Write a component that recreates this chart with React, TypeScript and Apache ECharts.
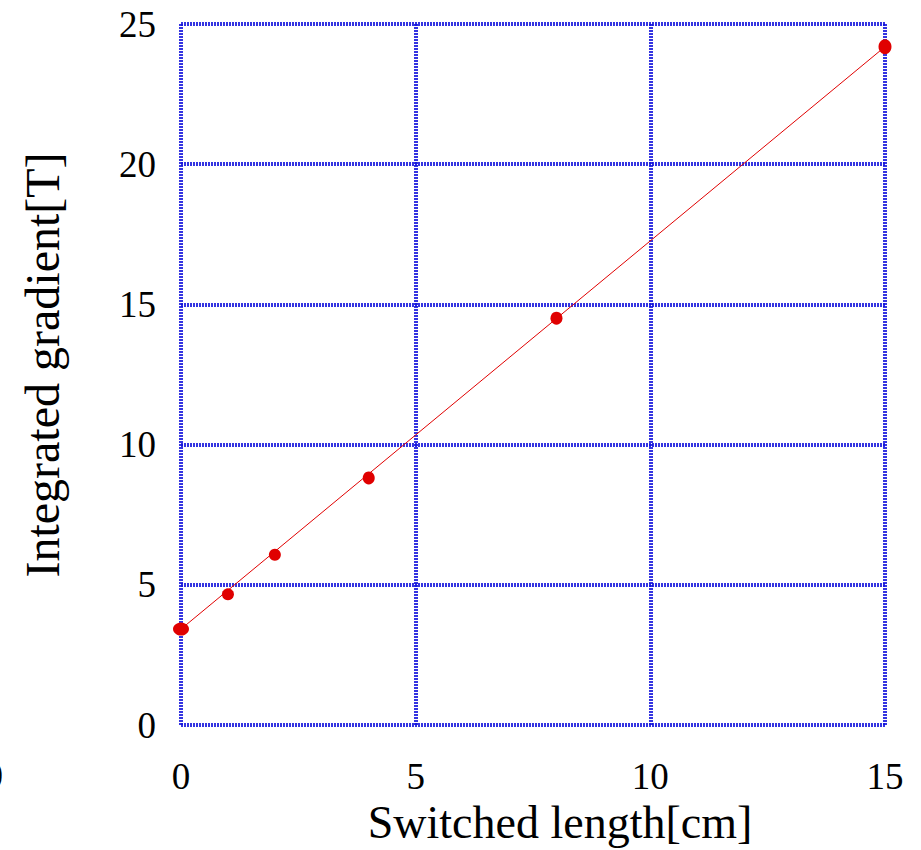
import React, { useEffect, useRef } from "react";
import * as echarts from "echarts";

const lengthsCm = [0, 1, 2, 4, 8, 15];
const gradientT = [3.42, 4.66, 6.07, 8.81, 14.51, 24.19];
const markerSizes = [[16, 13], [12, 12], [12, 12], [12, 13], [12, 13], [13, 15]];
const fitX = [0, 15];
const fitY = [3.42, 24.19];
const xTicks = [0, 5, 10, 15];
const yTicks = [0, 5, 10, 15, 20, 25];
const xTitle = "Switched length[cm]";
const yTitle = "Integrated gradient[T]";

const FONT = "'Liberation Serif', 'DejaVu Serif', serif";
const GRID_COLOR = "#1010dc";

export default function App() {
  const ref = useRef<HTMLDivElement>(null);
  useEffect(() => {
    if (!ref.current) return;
    const chart = echarts.init(ref.current, null, { renderer: "svg" });
    const gridLine = {
      show: true,
      lineStyle: { color: GRID_COLOR, width: 4, type: [2, 1] as any, opacity: 0.85 },
    };
    chart.setOption({
      animation: false,
      backgroundColor: "#ffffff",
      grid: { left: 181, top: 24, width: 704, height: 701, containLabel: false },
      xAxis: {
        type: "value",
        min: xTicks[0],
        max: xTicks[xTicks.length - 1],
        interval: 5,
        axisLine: { show: false },
        axisTick: { show: false },
        splitLine: gridLine,
        axisLabel: {
          fontFamily: FONT,
          fontSize: 37,
          color: "#000",
          margin: 33,
          formatter: (v: number) => (xTicks.includes(v) ? String(v) : ""),
        },
      },
      yAxis: {
        type: "value",
        min: yTicks[0],
        max: yTicks[yTicks.length - 1],
        interval: 5,
        axisLine: { show: false },
        axisTick: { show: false },
        splitLine: gridLine,
        axisLabel: {
          fontFamily: FONT,
          fontSize: 37,
          color: "#000",
          margin: 25,
          formatter: (v: number) => (yTicks.includes(v) ? String(v) : ""),
        },
      },
      graphic: [
        {
          type: "text",
          x: 560,
          y: 822,
          style: {
            text: xTitle,
            fontFamily: FONT,
            fontSize: 46,
            fill: "#000",
            align: "center",
            verticalAlign: "middle",
          },
        },
        {
          type: "text",
          x: 42,
          y: 365,
          rotation: Math.PI / 2,
          style: {
            text: yTitle,
            fontFamily: FONT,
            fontSize: 48,
            fill: "#000",
            align: "center",
            verticalAlign: "middle",
          },
        },
        {
          type: "text",
          x: 3,
          y: 775,
          style: {
            text: "0",
            fontFamily: FONT,
            fontSize: 37,
            fill: "#000",
            align: "right",
            verticalAlign: "middle",
          },
        },
      ],
      series: [
        {
          type: "line",
          data: fitX.map((x, i) => [x, fitY[i]]),
          showSymbol: false,
          symbol: "none",
          lineStyle: { color: "#e00000", width: 1 },
          z: 3,
        },
        {
          type: "scatter",
          data: lengthsCm.map((x, i) => ({
            value: [x, gradientT[i]],
            symbolSize: markerSizes[i],
          })),
          symbol: "circle",
          itemStyle: { color: "#e00000", opacity: 1 },
          z: 4,
        },
      ],
    });
    return () => chart.dispose();
  }, []);
  return (
    <div
      ref={ref}
      style={{ position: "absolute", left: 0, top: 0, width: 921, height: 850 }}
    />
  );
}
